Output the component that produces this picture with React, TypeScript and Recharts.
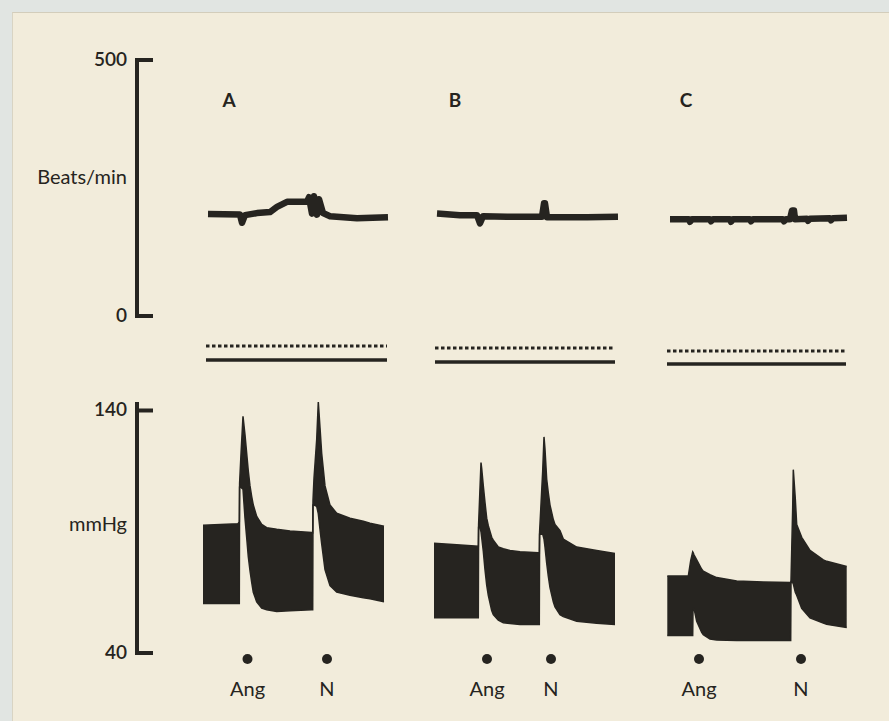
import React from "react";
import { ComposedChart, Line, Area, XAxis, YAxis, ReferenceDot } from "recharts";

const INK = "#262420";
const PAPER = "#f2ecdb";
const FONT = "Lato, 'Open Sans', sans-serif";

// time runs left to right through the three records (chart units)
const T_DOMAIN: [number, number] = [0, 733];

const PANELS = ["A", "B", "C"];
const PANEL_T = [92, 318, 549];
const PANEL_LABEL_BPM = 422;

// heart rate, beats/min: [t, bpm]
const HR_A = [
  [71, 199], [103, 198], [105, 182], [108, 197], [120, 201], [133, 203], [140, 213],
  [150, 223], [170, 223], [172, 232], [175, 200], [177, 234], [180, 198], [182, 228],
  [186, 201], [193, 195], [220, 191], [251, 193],
];
const HR_B = [
  [300, 200], [323, 197], [340, 197], [343, 181], [346, 195], [370, 194], [405, 194],
  [407, 220], [408, 220], [410, 193], [450, 193], [481, 194],
];
const HR_C = [
  [533, 189], [552, 189], [553, 184], [555, 189], [573, 189], [574, 185], [576, 189],
  [593, 189], [594, 184], [596, 189], [613, 189], [614, 185], [616, 189], [630, 189],
  [646, 189], [647, 185], [649, 189], [653, 189], [655, 206], [657, 206], [658, 189],
  [670, 190], [671, 186], [673, 190], [693, 191], [694, 187], [696, 191], [710, 192],
];

// arterial pressure band, mmHg: [t, diastolic, systolic]
const BP_A = [
  [66, 60.4, 92.7], [101, 60.4, 93.3], [102.3, 60.4, 94], [102.6, 108.3, 110],
  [104, 108.3, 122], [106, 107.5, 137.6], [108, 95.6, 130], [109.7, 87.5, 122.2],
  [111.3, 79.7, 115], [113, 74, 108.9], [114.7, 69.1, 104.5], [116.3, 65, 101],
  [119.7, 61.1, 96.3], [124.7, 58.5, 93], [129.7, 57.8, 91.7], [139.7, 57.1, 91],
  [153, 57.4, 90.3], [174.7, 57.8, 89.7], [175.7, 57.8, 89.6], [176, 101, 103],
  [177, 101, 112], [179.7, 100.5, 128], [181.3, 97.5, 143.5], [183, 91, 133],
  [184.7, 85, 122.2], [188, 74.4, 108.9], [193, 67.8, 101], [199.7, 65.1, 97.6],
  [213, 63.8, 95.6], [226.3, 62.8, 94.3], [233, 62.4, 93.5], [247, 61.1, 92.3],
];
const BP_B = [
  [297, 54.5, 85.3], [316, 54.5, 84.7], [338, 54.5, 84.1], [341.3, 54.5, 84],
  [341.6, 91.7, 93], [343, 91.7, 108], [344, 90, 118.5], [344.7, 87.7, 116],
  [346.3, 82, 108.9], [348, 74.4, 102], [349.7, 68, 95.6], [351.3, 63.8, 92.5],
  [354.7, 57.5, 87.7], [356.3, 55.8, 86.5], [361.3, 53.5, 83.7], [366.3, 52.5, 83],
  [373, 52.2, 82.3], [383, 51.8, 81.8], [401.3, 51.8, 81.3], [402.3, 51.8, 81.2],
  [402.6, 89, 90], [405.7, 89, 115], [407, 87, 129.1], [408, 83.7, 124],
  [409.7, 77, 111.6], [411.3, 71.7, 106], [413, 67, 101], [416.3, 61.1, 95],
  [418, 59, 93], [423, 55.8, 90.5], [426.3, 55, 87], [439.7, 53.1, 83.7],
  [459.7, 52.3, 82.3], [478, 51.8, 81],
];
const BP_C = [
  [530.3, 47.2, 71.7], [551.3, 47.2, 71.7], [553.7, 47.2, 78.1], [555.7, 47.2, 81.7],
  [556, 58.4, 81.5], [557, 58.4, 80.5], [559.7, 53.1, 78.4], [564.7, 48.5, 74.5],
  [566.3, 47.5, 73.7], [573, 45.8, 72.3], [579.7, 45.4, 71.1], [599.7, 45.2, 69.7],
  [626.3, 45.2, 69.3], [653.7, 45.2, 69.1], [654, 69.1, 70], [655.7, 69.1, 100],
  [656.3, 68.5, 115.6], [658.3, 65, 103.6], [659.7, 63.8, 93], [664.7, 58.4, 87.7],
  [673, 54.5, 82.3], [686.3, 52.3, 78.4], [689.7, 51.8, 77.8], [709.7, 50.5, 75.7],
];

// marker channel (dotted + solid) per record: span and levels
const MARK_SPAN = [[69, 250], [298, 478], [530, 709]];
const MARK_DOTTED = [24, 22, 19];
const MARK_SOLID = [10, 8, 6];

// injections
const EVENT_T = [110.5, 190, 350, 414, 562, 664];
const EVENT_LABEL = ["Ang", "N", "Ang", "N", "Ang", "N"];

const KEYS = ["a", "b", "c"];

const hrRows = [HR_A, HR_B, HR_C].flatMap((s, i) =>
  s.map(([t, v]) => ({ t, [KEYS[i]]: v }))
);
const bpRows = [BP_A, BP_B, BP_C].flatMap((s, i) =>
  s.map(([t, lo, hi]) => ({ t, [KEYS[i]]: [lo, hi] }))
);
const markRows = MARK_SPAN.flatMap((span, i) =>
  span.map((t) => ({ t, ["d" + i]: MARK_DOTTED[i], ["s" + i]: MARK_SOLID[i] }))
);

function BracketTick(props: any) {
  const { x, y, payload } = props;
  return (
    <g>
      <line x1={x + 6} x2={x + 24} y1={y} y2={y} stroke={INK} strokeWidth={4} />
      <text x={x - 2} y={y} dy={6} textAnchor="end" fontSize={19} fontWeight={600} fill={INK} fontFamily={FONT}>
        {payload.value}
      </text>
    </g>
  );
}

function AxisTitle(props: any) {
  const { viewBox, text, shift } = props;
  if (!viewBox) return null;
  return (
    <text
      x={viewBox.x + viewBox.width - 10}
      y={viewBox.y + viewBox.height / 2 + shift}
      dy={7}
      textAnchor="end"
      fontSize={20}
      fill={INK}
      fontFamily={FONT}
    >
      {text}
    </text>
  );
}

function EventTick(props: any) {
  const { x, y, payload } = props;
  const label = EVENT_LABEL[EVENT_T.indexOf(payload.value)];
  return (
    <g>
      <circle cx={x} cy={y - 2} r={5} fill={INK} />
      <text x={x} y={y + 35} textAnchor="middle" fontSize={20} fill={INK} fontFamily={FONT}>
        {label}
      </text>
    </g>
  );
}

export default function App() {
  return (
    <div style={{ position: "absolute", left: 0, top: 0, width: 889, height: 721, background: "#e1e5e2", overflow: "hidden" }}>
      <div style={{ position: "absolute", left: 12, top: 12, right: 0, bottom: 0, background: PAPER, borderTop: "1px solid #d3cdbb", borderLeft: "1px solid #d9d4c3" }} />

      <div style={{ position: "absolute", left: 0, top: 0 }}>
        <ComposedChart width={889} height={340} data={hrRows} margin={{ top: 60, right: 19, bottom: 24, left: 0 }}>
          <XAxis dataKey="t" type="number" domain={T_DOMAIN} hide />
          <YAxis
            domain={[0, 500]}
            ticks={[0, 500]}
            width={137}
            axisLine={{ stroke: INK, strokeWidth: 4 }}
            tickLine={false}
            tick={<BracketTick />}
            label={<AxisTitle text="Beats/min" shift={-11} />}
          />
          {KEYS.map((k) => (
            <Line
              key={k}
              dataKey={k}
              type="linear"
              stroke={INK}
              strokeWidth={6.5}
              strokeLinejoin="round"
              dot={false}
              activeDot={false}
              connectNulls={false}
              isAnimationActive={false}
            />
          ))}
          {PANELS.map((p, i) => (
            <ReferenceDot
              key={p}
              x={PANEL_T[i]}
              y={PANEL_LABEL_BPM}
              r={0}
              fill="none"
              stroke="none"
              label={{ value: p, position: "center", fill: INK, fontSize: 19, fontWeight: 700, fontFamily: FONT }}
            />
          ))}
        </ComposedChart>
      </div>

      <div style={{ position: "absolute", left: 0, top: 330 }}>
        <ComposedChart width={889} height={50} data={markRows} margin={{ top: 10, right: 19, bottom: 10, left: 137 }}>
          <XAxis dataKey="t" type="number" domain={T_DOMAIN} hide />
          <YAxis domain={[0, 30]} hide />
          {MARK_SPAN.map((_, i) => (
            <Line
              key={"d" + i}
              dataKey={"d" + i}
              stroke={INK}
              strokeWidth={3}
              strokeDasharray="3.5 2.5"
              dot={false}
              activeDot={false}
              isAnimationActive={false}
            />
          ))}
          {MARK_SPAN.map((_, i) => (
            <Line
              key={"s" + i}
              dataKey={"s" + i}
              stroke={INK}
              strokeWidth={3.5}
              dot={false}
              activeDot={false}
              isAnimationActive={false}
            />
          ))}
        </ComposedChart>
      </div>

      <div style={{ position: "absolute", left: 0, top: 372 }}>
        <ComposedChart width={889} height={349} data={bpRows} margin={{ top: 30, right: 19, bottom: 8, left: 0 }}>
          <XAxis
            dataKey="t"
            type="number"
            domain={T_DOMAIN}
            ticks={EVENT_T}
            interval={0}
            height={60}
            axisLine={false}
            tickLine={false}
            tick={<EventTick />}
          />
          <YAxis
            domain={[40, 140]}
            ticks={[40, 140]}
            width={137}
            axisLine={{ stroke: INK, strokeWidth: 4 }}
            tickLine={false}
            tick={<BracketTick />}
            label={<AxisTitle text="mmHg" shift={-4} />}
          />
          {KEYS.map((k) => (
            <Area
              key={k}
              dataKey={k}
              type="linear"
              stroke={INK}
              strokeWidth={1.5}
              fill={INK}
              fillOpacity={1}
              dot={false}
              activeDot={false}
              connectNulls={false}
              isAnimationActive={false}
            />
          ))}
        </ComposedChart>
      </div>
    </div>
  );
}
